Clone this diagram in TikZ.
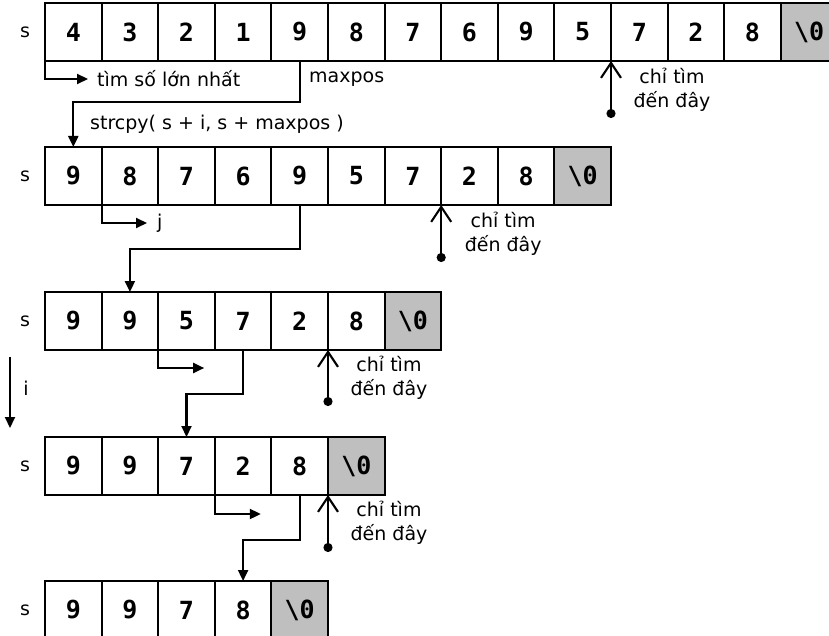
\documentclass[tikz,border=0pt]{standalone}
\usepackage{fontspec}
\setmainfont{DejaVu Sans}
\newfontfamily\cellfont{DejaVu Sans Mono}
\usetikzlibrary{arrows.meta}
\tikzset{
  cell/.style={draw, line width=2.1pt, minimum width=56.6pt, minimum height=58pt,
    inner sep=0pt, outer sep=0pt, anchor=north west,
    font=\cellfont\bfseries\fontsize{25}{25}\selectfont},
  endcell/.style={cell, fill=black!25},
  lbl/.style={font=\fontsize{19}{24}\selectfont, inner sep=0pt, align=center},
  conn/.style={line width=2.1pt, -{Triangle[length=11pt,width=10pt]}},
  limit/.style={line width=2.1pt, {Circle[length=9pt]}-{Straight Barb[length=15pt,width=20pt,line width=2.1pt]}},
}
\begin{document}
\begin{tikzpicture}[x=1pt,y=-1pt]
\useasboundingbox (0,0) rectangle (829,636);
\clip (0,0) rectangle (829,636);
% ---------- row 1
\foreach \v [count=\i from 0] in {4,3,2,1,9,8,7,6,9,5,7,2,8}
  \node[cell] (a\i) at ({45+56.6*\i},3) {\v};
\node[endcell] (a13) at ({45+56.6*13},3) {\textbackslash0};
\node[lbl] (s1) at (25,32) {s};
% ---------- row 2
\foreach \v [count=\i from 0] in {9,8,7,6,9,5,7,2,8}
  \node[cell] (b\i) at ({45+56.6*\i},147) {\v};
\node[endcell] (b9) at ({45+56.6*9},147) {\textbackslash0};
\node[lbl] (s2) at (25,176) {s};
% ---------- row 3
\foreach \v [count=\i from 0] in {9,9,5,7,2,8}
  \node[cell] (c\i) at ({45+56.6*\i},292) {\v};
\node[endcell] (c6) at ({45+56.6*6},292) {\textbackslash0};
\node[lbl] (s3) at (25,321) {s};
% ---------- row 4
\foreach \v [count=\i from 0] in {9,9,7,2,8}
  \node[cell] (d\i) at ({45+56.6*\i},437) {\v};
\node[endcell] (d5) at ({45+56.6*5},437) {\textbackslash0};
\node[lbl] (s4) at (25,466) {s};
% ---------- row 5
\foreach \v [count=\i from 0] in {9,9,7,8}
  \node[cell] (e\i) at ({45+56.6*\i},581) {\v};
\node[endcell] (e4) at ({45+56.6*4},581) {\textbackslash0};
\node[lbl] (s5) at (25,610) {s};

% ---------- labels
\node[lbl, anchor=west] (t1) at (97,79) {tìm số lớn nhất};
\node[lbl, anchor=west] (mp) at (309,79) {maxpos};
\node[lbl, anchor=west] (sc) at (90,124) {strcpy( s + i, s + maxpos )};
\node[lbl, anchor=west] (tj) at (157,223) {j};
\node[lbl] (L1) at ([xshift=61pt,yshift=-29pt]a10.south west) {chỉ tìm\\đến đây};
\node[lbl] (L2) at ([xshift=62pt,yshift=-29pt]b7.south west) {chỉ tìm\\đến đây};
\node[lbl] (L3) at ([xshift=61pt,yshift=-28pt]c5.south west) {chỉ tìm\\đến đây};
\node[lbl] (L4) at ([xshift=61pt,yshift=-28pt]d5.south west) {chỉ tìm\\đến đây};
\node[lbl] (ti) at (26,388) {i};

% ---------- search arrows
\draw[conn, shorten >=9pt] (a0.south west) |- (t1.west);
\draw[conn, shorten >=10pt] (b1.south west) |- (tj.west);
\coordinate (g3) at ([xshift=46pt,yshift=-18pt]c2.south west);
\draw[conn] (c2.south west) |- (g3);
\coordinate (g4) at ([xshift=46pt,yshift=-19pt]d3.south west);
\draw[conn] (d3.south west) |- (g4);

% ---------- maxpos arrows
\draw[conn] (a4.south) -- ++(0,41) -| (b0.north);
\draw[conn] (b4.south) -- ++(0,44) -| (c1.north);
\draw[conn] (c3.south) -- ++(0,44) -| (d2.north);
\draw[conn] (d4.south) -- ++(0,45) -| (e3.north);

% ---------- limit arrows
\coordinate (k1) at ([yshift=-57pt]a10.south west);
\draw[limit] (k1) -- (a10.south west);
\coordinate (k2) at ([yshift=-57pt]b7.south west);
\draw[limit] (k2) -- (b7.south west);
\coordinate (k3) at ([yshift=-56pt]c5.south west);
\draw[limit] (k3) -- (c5.south west);
\coordinate (k4) at ([yshift=-57pt]d5.south west);
\draw[limit] (k4) -- (d5.south west);

% ---------- i arrow
\coordinate (i1) at (10,357);
\coordinate (i2) at (10,428);
\draw[conn] (i1) -- (i2);
\end{tikzpicture}
\end{document}
